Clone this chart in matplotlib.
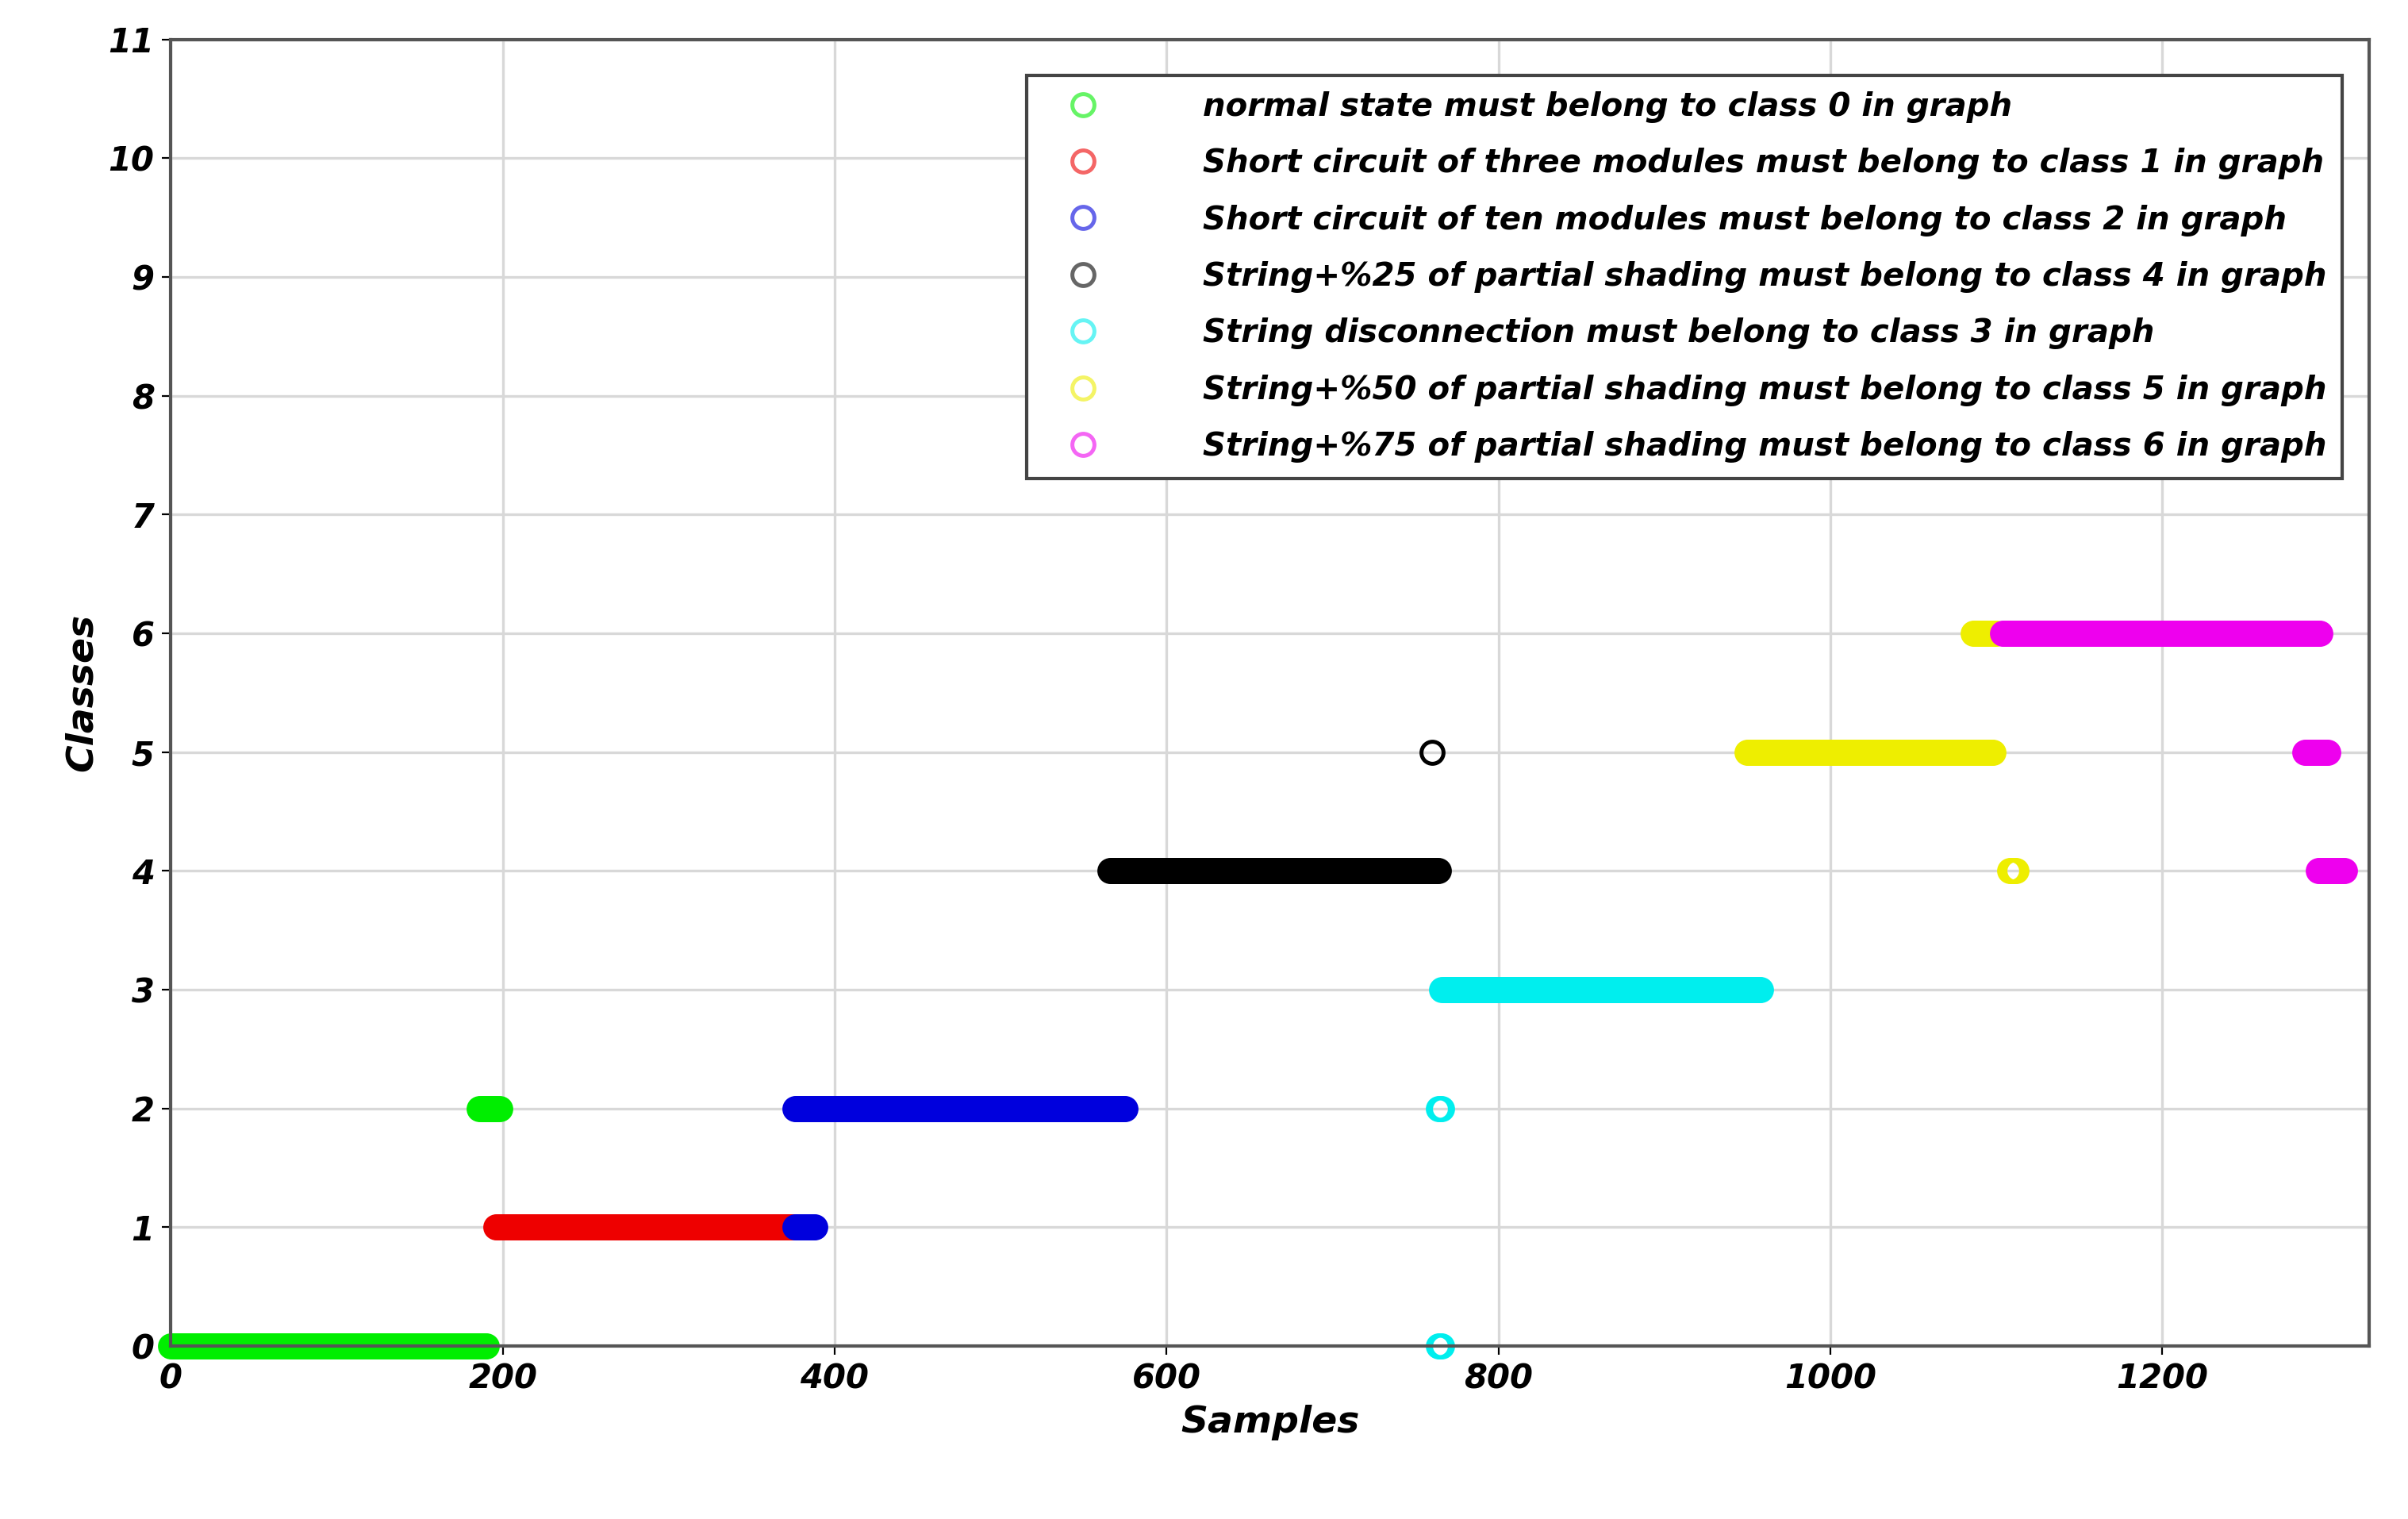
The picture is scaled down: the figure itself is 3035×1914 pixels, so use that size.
import numpy as np
import matplotlib
matplotlib.use("Agg")
import matplotlib.pyplot as plt

labels = ["normal state must belong to class 0 in graph",
          "Short circuit of three modules must belong to class 1 in graph",
          "Short circuit of ten modules must belong to class 2 in graph",
          "String+%25 of partial shading must belong to class 4 in graph",
          "String disconnection must belong to class 3 in graph",
          "String+%50 of partial shading must belong to class 5 in graph",
          "String+%75 of partial shading must belong to class 6 in graph"]
colors = ["#00ee00", "#ee0000", "#0000dd", "#000000", "#00eeee", "#eeee00", "#ee00ee"]

# runs per state: (first sample, last sample, predicted class)
runs = [
    [(0, 190, 0), (186, 198, 2)],
    [(196, 378, 1)],
    [(376, 388, 1), (376, 575, 2)],
    [(566, 764, 4), (760, 760, 5)],
    [(766, 958, 3), (764, 766, 2), (764, 766, 0)],
    [(950, 1098, 5), (1086, 1100, 6), (1108, 1112, 4)],
    [(1104, 1295, 6), (1286, 1300, 5), (1294, 1310, 4)],
]

fig = plt.figure(figsize=(15.175, 9.57), dpi=200)
ax = fig.add_axes([0.071, 0.114, 0.913, 0.86])
font = dict(fontweight="bold", fontstyle="italic", family="DejaVu Sans")

for i, (rr, c, lab) in enumerate(zip(runs, colors, labels)):
    xs, ys = [], []
    for s, e, k in rr:
        x = np.arange(s, e + 1)
        xs.append(x); ys.append(np.full(x.shape, k))
    ax.plot(np.concatenate(xs), np.concatenate(ys), 'o', mfc='none', mec=c,
            ms=10, mew=1.8, label=lab, clip_on=False)

ax.set_xlim(0, 1325)
ax.set_ylim(0, 11)
ax.set_xticks(range(0, 1201, 200))
ax.set_yticks(range(0, 12))
ax.grid(True, color="#d8d8d8", lw=1.2)
ax.tick_params(labelsize=15, length=4)
for t in ax.get_xticklabels() + ax.get_yticklabels():
    t.set_fontweight("bold"); t.set_fontstyle("italic")
ax.set_xlabel("Samples", fontsize=17, **font)
ax.set_ylabel("Classes", fontsize=17, **font)
for s in ax.spines.values():
    s.set_color("#555555"); s.set_linewidth(1.5)

leg = ax.legend(loc="upper right", bbox_to_anchor=(0.995, 0.985), fancybox=False,
                edgecolor="#444444", framealpha=1, handletextpad=2.5, borderpad=0.5,
                handlelength=2.5, labelspacing=0.78,
                prop=dict(size=14.5, weight="bold", style="italic"))
leg.get_frame().set_linewidth(1.5)
for h in leg.legend_handles:
    h.set_alpha(0.6)

fig.savefig("out.png", dpi=200)
